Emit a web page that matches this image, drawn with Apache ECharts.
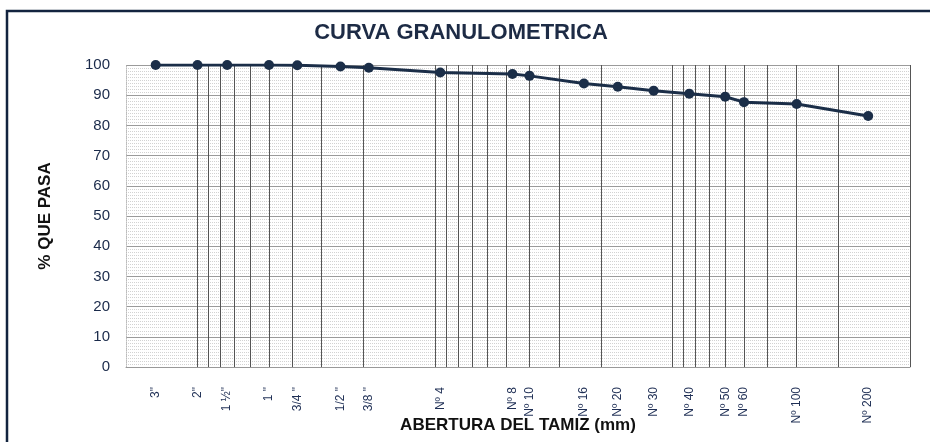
<!DOCTYPE html>
<html>
<head>
<meta charset="utf-8">
<script src="https://cdn.jsdelivr.net/npm/echarts@6/dist/echarts.min.js"></script>
<style>
html,body{margin:0;padding:0;background:#fff;}
#c{width:930px;height:442px;}
</style>
</head>
<body>
<div id="c"></div>
<script>
// Sieve names and openings (mm)
var sieveNames = ['3"', '2"', '1 ½"', '1 "', '3/4 "', '1/2 "', '3/8 "', 'Nº 4', 'Nº 8', 'Nº 10', 'Nº 16', 'Nº 20', 'Nº 30', 'Nº 40', 'Nº 50', 'Nº 60', 'Nº 100', 'Nº 200'];
var sieveMm = [75, 50, 37.5, 25, 19, 12.5, 9.5, 4.75, 2.36, 2.0, 1.18, 0.85, 0.6, 0.425, 0.3, 0.25, 0.15, 0.075];
// % passing
var pctPass = [100, 100, 100, 100, 99.9, 99.5, 99.1, 97.5, 97.0, 96.4, 93.9, 92.8, 91.5, 90.5, 89.5, 87.7, 87.1, 83.1];
// vertical grid lines of the chart (mm)
var gridMm = [50, 45, 40, 35, 30, 25, 20, 15, 10, 5, 4.5, 4, 3.5, 3, 2.5, 2, 1.5, 1, 0.5, 0.45, 0.4, 0.35, 0.3, 0.25, 0.2, 0.15, 0.1, 0.05];
var yTicks = [0, 10, 20, 30, 40, 50, 60, 70, 80, 90, 100];

var FN = '"Liberation Sans Narrow", "Arial Narrow", "Liberation Sans", Arial, sans-serif';
var chart = echarts.init(document.getElementById('c'));

function sieveLabel(v) {
  var best = 0, bd = Infinity;
  for (var i = 0; i < sieveMm.length; i++) {
    var d = Math.abs(Math.log(v) - Math.log(sieveMm[i]));
    if (d < bd) { bd = d; best = i; }
  }
  return sieveNames[best];
}

var pts = sieveMm.map(function (m, i) { return [m, pctPass[i]]; });

chart.setOption({
  animation: false,
  backgroundColor: '#fff',
  title: {
    text: 'CURVA GRANULOMETRICA',
    left: 456, top: 17, textAlign: 'center',
    textStyle: { fontFamily: FN, fontSize: 22, fontWeight: 'bold', color: '#1d2b45' }
  },
  graphic: [{
    type: 'rect', shape: { x: 7, y: 11, width: 940, height: 460 },
    style: { fill: 'none', stroke: '#13243f', lineWidth: 2.5 }, silent: true, z: 100
  }],
  grid: { left: 126, right: 20, top: 65, bottom: 75, outerBoundsMode: 'none', containLabel: false },
  xAxis: [{
    type: 'log', min: 0.05, max: 100, inverse: true, position: 'bottom',
    name: 'ABERTURA DEL TAMIZ (mm)', nameLocation: 'middle', nameGap: 50, nameMoveOverlap: false,
    nameTextStyle: { fontFamily: FN, fontSize: 17, fontWeight: 'bold', color: '#111' },
    axisLine: { show: true, lineStyle: { color: '#999', width: 1 } },
    axisTick: { show: false, customValues: sieveMm },
    axisLabel: {
      customValues: sieveMm, rotate: 90, margin: 20,
      fontFamily: FN, fontSize: 12, color: '#1f2f55',
      formatter: function (v) { return sieveLabel(v); }
    },
    splitLine: { show: false }
  }, {
    type: 'log', min: 0.05, max: 100, inverse: true, position: 'bottom',
    axisLine: { show: false },
    axisTick: { show: false, customValues: gridMm },
    axisLabel: { show: false },
    splitLine: { show: true, lineStyle: { color: '#555', width: 1 } }
  }],
  yAxis: {
    type: 'value', min: 0, max: 100, interval: 10,
    name: '% QUE PASA', nameLocation: 'middle', nameGap: 72, nameRotate: 90, nameMoveOverlap: false,
    nameTextStyle: { fontFamily: FN, fontSize: 17, fontWeight: 'bold', color: '#111' },
    axisLine: { show: true, lineStyle: { color: '#bbb', type: 'dotted' } },
    axisTick: { show: false },
    axisLabel: { fontFamily: FN, fontSize: 15, color: '#1a2a4a', margin: 16 },
    splitLine: { show: true, lineStyle: { color: '#9a9a9a', width: 1 } },
    minorTick: { show: false, splitNumber: 10 },
    minorSplitLine: { show: true, lineStyle: { color: '#d2d2d2', type: 'dotted', width: 1 } }
  },
  series: [{
    type: 'line', xAxisIndex: 0, data: pts,
    symbol: 'circle', symbolSize: 10,
    lineStyle: { color: '#1b2e48', width: 3 },
    itemStyle: { color: '#1b2e48' }, z: 10
  }]
});
</script>
</body>
</html>
